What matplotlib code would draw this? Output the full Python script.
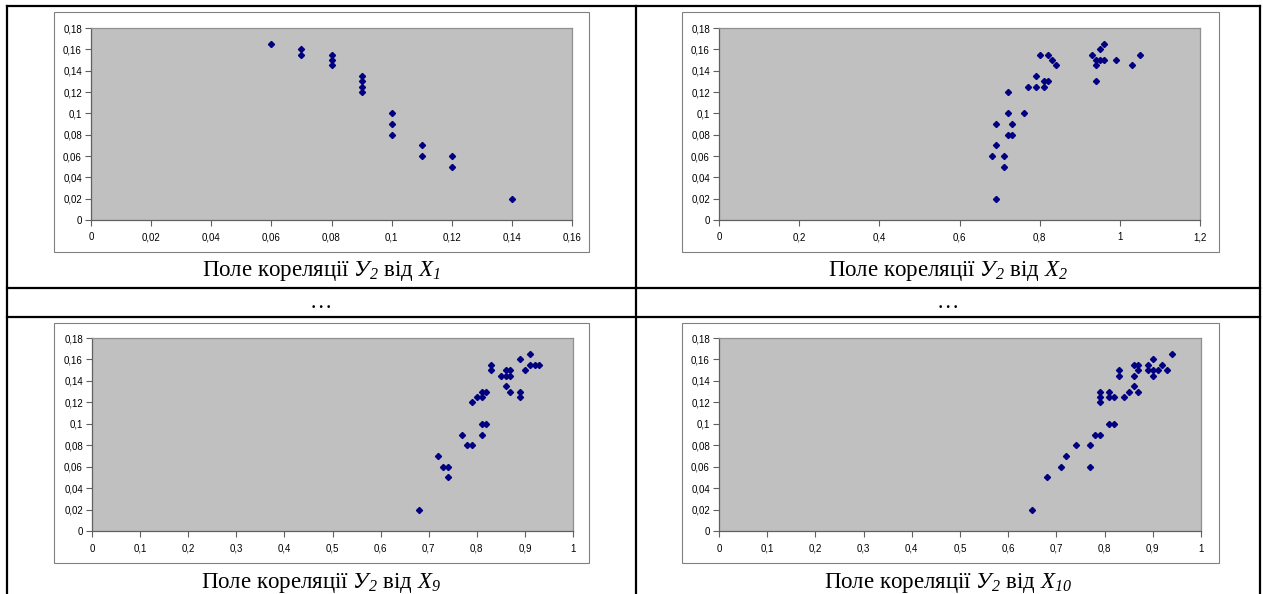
import matplotlib.pyplot as plt
from matplotlib.lines import Line2D
from matplotlib.patches import Rectangle

plt.rcParams['font.family'] = ['Liberation Sans', 'DejaVu Sans']
plt.rcParams['mathtext.fontset'] = 'custom'
plt.rcParams['mathtext.rm'] = 'Liberation Serif:italic'
plt.rcParams['mathtext.it'] = 'Liberation Serif:italic'

# --- data ---
x1 = [0.06, 0.07, 0.07, 0.08, 0.08, 0.08, 0.09, 0.09, 0.09, 0.09,
      0.10, 0.10, 0.10, 0.11, 0.11, 0.12, 0.12, 0.14]
y_x1 = [0.165, 0.16, 0.155, 0.155, 0.15, 0.145, 0.135, 0.13, 0.125, 0.12,
        0.10, 0.09, 0.08, 0.07, 0.06, 0.06, 0.05, 0.02]

x2 = [0.69, 0.68, 0.71, 0.71, 0.69, 0.69, 0.72, 0.73, 0.73, 0.72, 0.72,
      0.76, 0.77, 0.79, 0.79, 0.81, 0.81, 0.82, 0.80, 0.82, 0.83, 0.84,
      0.93, 0.94, 0.94, 0.94, 0.95, 0.95, 0.96, 0.96, 0.99, 1.03, 1.05]
y_x2 = [0.02, 0.06, 0.06, 0.05, 0.07, 0.09, 0.08, 0.08, 0.09, 0.10, 0.12,
        0.10, 0.125, 0.125, 0.135, 0.125, 0.13, 0.13, 0.155, 0.155, 0.15, 0.145,
        0.155, 0.15, 0.145, 0.13, 0.16, 0.15, 0.15, 0.165, 0.15, 0.145, 0.155]

x9 = [0.68, 0.72, 0.73, 0.74, 0.74, 0.77, 0.78, 0.79, 0.79, 0.80, 0.81,
      0.81, 0.82, 0.81, 0.82, 0.81, 0.83, 0.83, 0.85, 0.86, 0.87, 0.86,
      0.87, 0.86, 0.87, 0.89, 0.89, 0.89, 0.90, 0.91, 0.91, 0.92, 0.93]
y_x9 = [0.02, 0.07, 0.06, 0.06, 0.05, 0.09, 0.08, 0.08, 0.12, 0.125, 0.125,
        0.13, 0.13, 0.10, 0.10, 0.09, 0.155, 0.15, 0.145, 0.145, 0.145, 0.15,
        0.15, 0.135, 0.13, 0.13, 0.125, 0.16, 0.15, 0.165, 0.155, 0.155, 0.155]

x10 = [0.65, 0.68, 0.71, 0.72, 0.74, 0.77, 0.77, 0.78, 0.79, 0.79, 0.79,
       0.79, 0.81, 0.81, 0.82, 0.81, 0.82, 0.83, 0.83, 0.84, 0.85, 0.86,
       0.87, 0.86, 0.86, 0.87, 0.87, 0.89, 0.89, 0.90, 0.90, 0.90, 0.91,
       0.92, 0.93, 0.94]
y_x10 = [0.02, 0.05, 0.06, 0.07, 0.08, 0.08, 0.06, 0.09, 0.09, 0.13, 0.125,
         0.12, 0.13, 0.125, 0.125, 0.10, 0.10, 0.15, 0.145, 0.125, 0.13, 0.135,
         0.13, 0.155, 0.145, 0.155, 0.15, 0.155, 0.15, 0.16, 0.15, 0.145, 0.15,
         0.155, 0.15, 0.165]

y_ticks = [0, 0.02, 0.04, 0.06, 0.08, 0.1, 0.12, 0.14, 0.16, 0.18]
y_labels = ['0', '0,02', '0,04', '0,06', '0,08', '0,1', '0,12', '0,14', '0,16', '0,18']
xt_small = [0, 0.02, 0.04, 0.06, 0.08, 0.1, 0.12, 0.14, 0.16]
xl_small = ['0', '0,02', '0,04', '0,06', '0,08', '0,1', '0,12', '0,14', '0,16']
xt_12 = [0, 0.2, 0.4, 0.6, 0.8, 1.0, 1.2]
xl_12 = ['0', '0,2', '0,4', '0,6', '0,8', '1', '1,2']
xt_1 = [0, 0.1, 0.2, 0.3, 0.4, 0.5, 0.6, 0.7, 0.8, 0.9, 1.0]
xl_1 = ['0', '0,1', '0,2', '0,3', '0,4', '0,5', '0,6', '0,7', '0,8', '0,9', '1']

captions = [r'Поле кореляції $У_2$ від $X_1$',
            r'Поле кореляції $У_2$ від $X_2$',
            r'Поле кореляції $У_2$ від $X_9$',
            r'Поле кореляції $У_2$ від $X_{10}$']

W, H = 1263, 594
fig = plt.figure(figsize=(W / 100, H / 100), dpi=100)


def fx(px):
    return px / W


def fy(py):
    return 1 - py / H


def hline(y, x0, x1_, lw=1.6, color='black'):
    fig.add_artist(Line2D([fx(x0), fx(x1_)], [fy(y), fy(y)], color=color, lw=lw))


def vline(x, y0, y1, lw=1.6, color='black'):
    fig.add_artist(Line2D([fx(x), fx(x)], [fy(y0), fy(y1)], color=color, lw=lw))


# table grid
hline(6, 7, 1260)
hline(288, 7, 1260)
hline(317, 7, 1260)
vline(7, 6, 600)
vline(636, 6, 600)
vline(1260, 6, 600)

panels = [
    (x1, y_x1, (54, 12, 589, 252), (91, 28, 572, 220), (0, 0.16), xt_small, xl_small),
    (x2, y_x2, (682, 12, 1219, 252), (719, 28, 1200, 220), (0, 1.2), xt_12, xl_12),
    (x9, y_x9, (54, 323, 589, 563), (92, 338, 573, 531), (0, 1), xt_1, xl_1),
    (x10, y_x10, (682, 323, 1219, 563), (719, 338, 1201, 531), (0, 1), xt_1, xl_1),
]

for xs, ys, frame, area, xlim, xt, xl in panels:
    l, t, r, b = frame
    fig.add_artist(Rectangle((fx(l), fy(b)), fx(r - l), (b - t) / H,
                             fill=False, edgecolor='#808080', lw=0.8))
    l, t, r, b = area
    ax = fig.add_axes([fx(l), fy(b), fx(r - l), (b - t) / H])
    ax.set_facecolor('#c0c0c0')
    ax.plot(xs, ys, linestyle='none', marker='D', markersize=3.1, color='#000080')
    ax.set_xlim(xlim)
    ax.set_ylim(0, 0.18)
    ax.set_xticks(xt)
    ax.set_xticklabels(xl)
    ax.set_yticks(y_ticks)
    ax.set_yticklabels(y_labels)
    ax.tick_params(axis='both', labelsize=7, length=4, width=0.8, color='#606060')
    ax.tick_params(axis='x', pad=5)
    ax.tick_params(axis='y', pad=2.5)
    for s in ['left', 'bottom']:
        ax.spines[s].set_color('#606060')
        ax.spines[s].set_linewidth(0.9)
    for s in ['top', 'right']:
        ax.spines[s].set_color('#909090')
        ax.spines[s].set_linewidth(0.9)

cap_pos = [(321, 271), (948, 271), (321, 583), (948, 583)]
for (cx, cy), cap in zip(cap_pos, captions):
    fig.text(fx(cx), fy(cy), cap, ha='center', va='center', fontsize=16.5,
             family='Liberation Serif')

fig.text(fx(321), fy(304), '…', ha='center', va='center', fontsize=16, family='Liberation Serif')
fig.text(fx(948), fy(304), '…', ha='center', va='center', fontsize=16, family='Liberation Serif')

fig.savefig('out.png', dpi=100)
